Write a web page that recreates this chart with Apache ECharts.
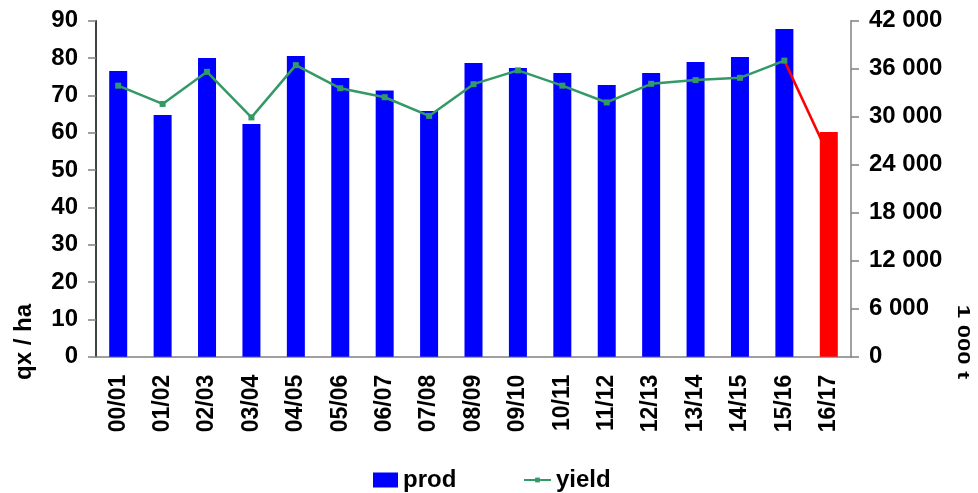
<!DOCTYPE html>
<html>
<head>
<meta charset="utf-8">
<script src="https://cdn.jsdelivr.net/npm/echarts@6/dist/echarts.min.js"></script>
<style>
html,body{margin:0;padding:0;background:#fff;}
#c{width:978px;height:493px;}
</style>
</head>
<body>
<div id="c"></div>
<script>
var categories = ['00/01','01/02','02/03','03/04','04/05','05/06','06/07','07/08','08/09','09/10','10/11','11/12','12/13','13/14','14/15','15/16','16/17'];
var prod = [35720, 30220, 37350, 29100, 37600, 34850, 33260, 30720, 36720, 36100, 35470, 33970, 35470, 36840, 37470, 40970, 28090];
var yieldVals = [72.6, 67.7, 76.3, 64.1, 78.1, 71.9, 69.5, 64.5, 73.0, 76.7, 72.6, 68.1, 73.1, 74.1, 74.7, 79.3, 53.8];
var leftTicks = {min: 0, max: 90, interval: 10};
var rightTicks = {min: 0, max: 42000, interval: 6000};

var FONT = '"Liberation Sans", Arial, sans-serif';
var last = categories.length - 1;

var prodData = prod.map(function (v, i) {
  return i === last ? {value: v, itemStyle: {color: '#FF0000'}} : v;
});
var yieldMain = yieldVals.slice(0, last);
var yieldLast = yieldVals.map(function (v, i) { return i >= last - 1 ? v : null; });

function fmtThousands(v) {
  return String(v).replace(/\B(?=(\d{3})+(?!\d))/g, ' ');
}

var legendText = {fontFamily: FONT, fontSize: 24, fontWeight: 'bold', color: '#000'};

var chart = echarts.init(document.getElementById('c'), null, {renderer: 'canvas'});
chart.setOption({
  animation: false,
  backgroundColor: '#ffffff',
  textStyle: {fontFamily: FONT},
  grid: {left: 96, right: 127, top: 20.7, bottom: 136.3, containLabel: false},
  legend: [
    {
      data: [{name: 'prod', icon: 'rect'}],
      left: 368,
      top: 463,
      itemWidth: 25,
      itemHeight: 15,
      textStyle: legendText
    },
    {
      data: [{name: 'yield'}],
      left: 518,
      top: 463,
      itemWidth: 27,
      itemHeight: 6,
      textStyle: legendText
    }
  ],
  xAxis: {
    type: 'category',
    data: categories,
    boundaryGap: true,
    axisLine: {show: true, lineStyle: {color: '#808080', width: 1.5}},
    axisTick: {show: false},
    axisLabel: {
      rotate: 90,
      margin: 18,
      interval: 0,
      fontFamily: FONT,
      fontSize: 23,
      fontWeight: 'bold',
      color: '#000'
    },
    splitLine: {show: false}
  },
  yAxis: [
    {
      type: 'value',
      position: 'left',
      min: leftTicks.min,
      max: leftTicks.max,
      interval: leftTicks.interval,
      axisLine: {show: true, lineStyle: {color: '#000', width: 1.5}},
      axisTick: {show: true, inside: false, length: 8, lineStyle: {color: '#808080', width: 1.5}},
      axisLabel: {margin: 18, fontFamily: FONT, fontSize: 24, fontWeight: 'bold', color: '#000'},
      splitLine: {show: false}
    },
    {
      type: 'value',
      position: 'right',
      min: rightTicks.min,
      max: rightTicks.max,
      interval: rightTicks.interval,
      axisLine: {show: true, lineStyle: {color: '#808080', width: 1.5}},
      axisTick: {show: true, inside: false, length: 8, lineStyle: {color: '#808080', width: 1.5}},
      axisLabel: {
        margin: 18,
        fontFamily: FONT, fontSize: 24, fontWeight: 'bold', color: '#000',
        formatter: function (v) { return fmtThousands(v); }
      },
      splitLine: {show: false}
    }
  ],
  series: [
    {
      name: 'prod',
      type: 'bar',
      yAxisIndex: 1,
      barWidth: 18,
      itemStyle: {color: '#0000FF'},
      data: prodData
    },
    {
      name: 'yield',
      type: 'line',
      yAxisIndex: 0,
      data: yieldMain,
      symbol: 'rect',
      symbolSize: 6,
      showAllSymbol: true,
      lineStyle: {color: '#339966', width: 2.5},
      itemStyle: {color: '#339966'},
      z: 4
    },
    {
      name: 'yield2',
      type: 'line',
      yAxisIndex: 0,
      data: yieldLast,
      symbol: 'none',
      connectNulls: false,
      lineStyle: {color: '#FF0000', width: 2.5},
      itemStyle: {color: '#FF0000'},
      z: 3
    }
  ],
  graphic: [
    {
      type: 'text',
      x: 24, y: 342,
      rotation: Math.PI / 2,
      style: {
        text: 'qx / ha',
        fontFamily: FONT, fontSize: 24, fontWeight: 'bold', fill: '#000',
        align: 'center', verticalAlign: 'middle'
      }
    },
    {
      type: 'text',
      x: 963, y: 342,
      rotation: -Math.PI / 2,
      scaleY: 0.7,
      style: {
        text: '1 000 t',
        fontFamily: FONT, fontSize: 24, fontWeight: 'bold', fill: '#000',
        align: 'center', verticalAlign: 'middle'
      }
    }
  ]
});
</script>
</body>
</html>
